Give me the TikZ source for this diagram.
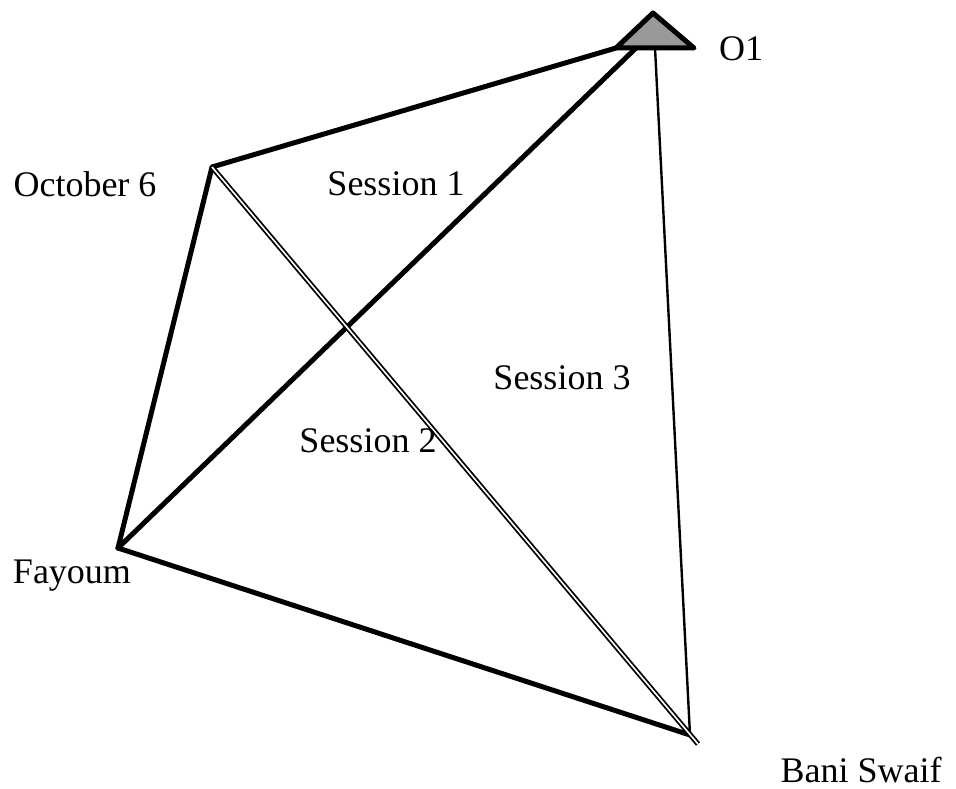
\documentclass[tikz,border=0pt]{standalone}
\usepackage{fontspec}
\setmainfont{Liberation Serif}
\usepackage{tikz}

\tikzset{
	thickline/.style={color=black, line width=5pt, line cap=round, line join=round},
	thinline/.style={color=black, line width=2.4pt},
	dblline/.style={color=black, double=white, double distance=1.6pt, line width=1.8pt},
	place/.style={font=\fontsize{36}{40}\selectfont, inner sep=0pt}
}

\begin{document}
\begin{tikzpicture}[x=1pt, y=-1pt]
\useasboundingbox (0,0) rectangle (956,789);
% sites
\coordinate (oct) at (212,167);
\coordinate (fay) at (118,548);
\coordinate (bani) at (690,735);
\coordinate (baniend) at (698,744);
\coordinate (o1l) at (616,48);
\coordinate (o1t) at (653,13);
\coordinate (o1r) at (694,48);
\coordinate (o1a) at (636,48);
\coordinate (o1b) at (655,48);
% links
\draw[thickline] (o1l)--(oct)--(fay);
\draw[thickline] (o1a)--(fay);
\draw[thickline] (fay)--(bani);
\draw[thinline] (o1b)--(bani);
\draw[dblline] (oct)--(baniend);
\draw[thickline, fill=black!40!white] (o1l)--(o1t)--(o1r)--cycle;
% labels
\node[place] (lo1) at (741,49) {O1};
\node[place] (loct) at (85,184) {October 6};
\node[place] (lfay) at (72,576) {Fayoum};
\node[place] (lbani) at (861,770) {Bani Swaif};
\node[place] (ls1) at (396,184) {Session 1};
\node[place] (ls2) at (368,441) {Session 2};
\node[place] (ls3) at (562,378) {Session 3};
\end{tikzpicture}
\end{document}
